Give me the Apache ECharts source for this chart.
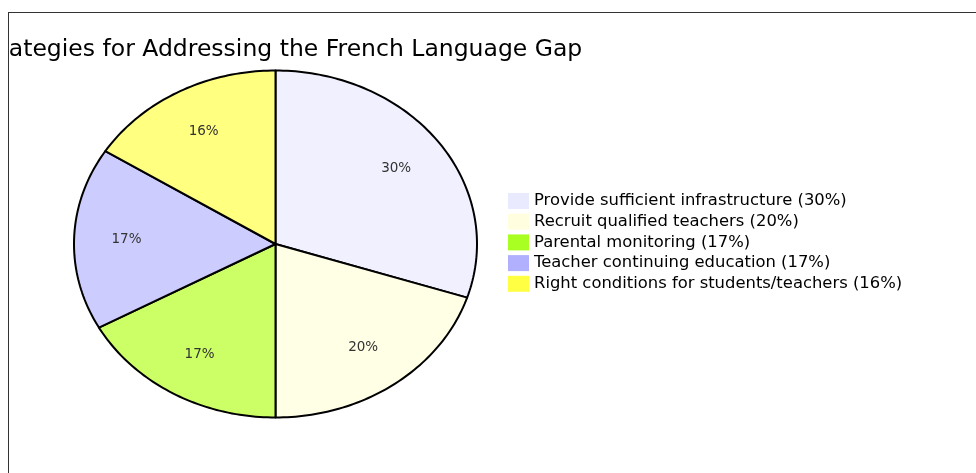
<!DOCTYPE html>
<html>
<head>
<meta charset="utf-8">
<script src="https://cdn.jsdelivr.net/npm/echarts@6/dist/echarts.min.js"></script>
<style>
  html, body { margin: 0; padding: 0; background: #fff; overflow: hidden; }
  #frame {
    position: absolute; left: 8px; top: 12px;
    width: 1000px; height: 500px;
    border: 1px solid #333; overflow: hidden;
  }
  #chart { width: 967px; height: 460px; }
</style>
</head>
<body>
<div id="frame"><div id="chart"></div></div>
<script>
// 法语差距应对策略 -- 椭圆饼图
const categories = [
  'Provide sufficient infrastructure',
  'Recruit qualified teachers',
  'Parental monitoring',
  'Teacher continuing education',
  'Right conditions for students/teachers'
];
const values = [30, 20, 17, 17, 16];
const sliceColors = ['#f0f0ff', '#ffffe6', '#ccff66', '#ccccff', '#ffff80'];
const legendColors = ['#eaeaff', '#ffffe0', '#aaff22', '#b0b0ff', '#ffff44'];

const total = values.reduce((a, b) => a + b, 0);
const names = categories.map((c, i) => c + ' (' + values[i] + '%)');

// 椭圆参数
const CX = 266.5, CY = 231, RX = 201.5, RY = 173.5;

function slicePoints(a0, a1) {
  let pts = [[CX, CY]];
  let steps = Math.max(8, Math.ceil((a1 - a0) / 0.02));
  for (let k = 0; k <= steps; k++) {
    let t = a0 + (a1 - a0) * k / steps;
    pts.push([CX + RX * Math.sin(t), CY - RY * Math.cos(t)]);
  }
  return pts;
}

let series = values.map((v, i) => {
  let before = values.slice(0, i).reduce((a, b) => a + b, 0);
  let a0 = before / total * Math.PI * 2;
  let a1 = (before + v) / total * Math.PI * 2;
  let mid = (a0 + a1) / 2;
  return {
    name: names[i],
    type: 'custom',
    coordinateSystem: 'none',
    color: legendColors[i],
    data: [v],
    renderItem: function () {
      return {
        type: 'group',
        children: [
          {
            type: 'polygon',
            shape: { points: slicePoints(a0, a1) },
            style: { fill: sliceColors[i], stroke: '#000', lineWidth: 2, lineJoin: 'round' }
          },
          {
            type: 'text',
            x: CX + RX * 0.74 * Math.sin(mid),
            y: CY - RY * 0.74 * Math.cos(mid),
            style: {
              text: Math.round(v / total * 100) + '%',
              fill: '#333',
              font: '13.5px "DejaVu Sans"',
              align: 'center',
              verticalAlign: 'middle'
            }
          }
        ]
      };
    }
  };
});

let myChart = echarts.init(document.getElementById('chart'));
myChart.setOption({
  animation: false,
  title: {
    text: 'Strategies for Addressing the French Language Gap',
    left: -34,
    top: 25,
    padding: 0,
    textStyle: { fontFamily: 'DejaVu Sans', fontSize: 23.5, fontWeight: 'normal', color: '#000' }
  },
  legend: {
    orient: 'vertical',
    left: 499,
    top: 180,
    itemWidth: 21,
    itemHeight: 16,
    itemGap: 4.7,
    padding: 0,
    icon: 'rect',
    textStyle: { fontFamily: 'DejaVu Sans', fontSize: 16.4, color: '#000' },
    data: names.map((n, i) => ({ name: n, itemStyle: { color: legendColors[i] } }))
  },
  series: series
});
</script>
</body>
</html>
